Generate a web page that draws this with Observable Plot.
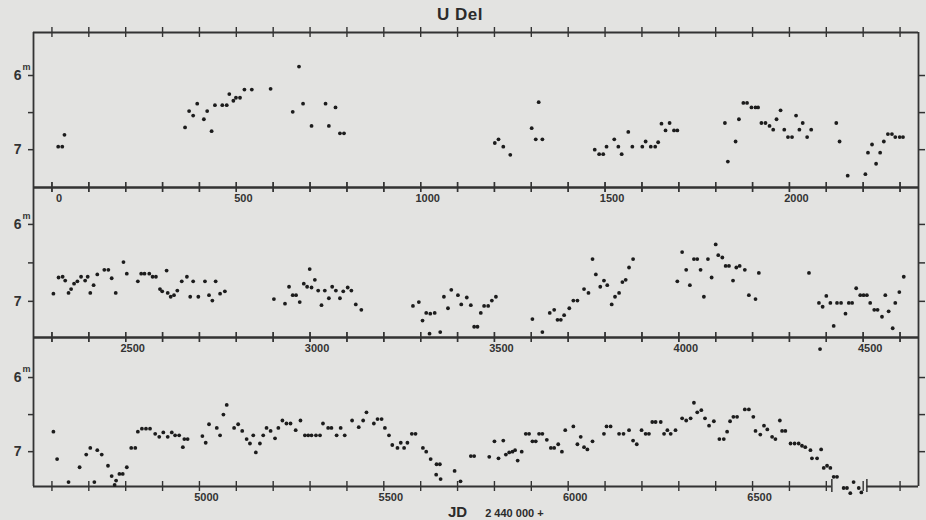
<!DOCTYPE html>
<html>
<head>
<meta charset="utf-8">
<script src="https://cdn.jsdelivr.net/npm/d3@7"></script>
<script src="https://cdn.jsdelivr.net/npm/@observablehq/plot@0.6"></script>
<style>
  html, body { margin: 0; padding: 0; background: #e3e3e1; }
  #chart { position: relative; width: 926px; height: 520px; overflow: hidden;
           font-family: "Liberation Sans", Arial, sans-serif; color: #333; }
  #chart svg { position: absolute; left: 0; top: 0; }
  #title { position: absolute; left: 0; width: 920px; top: 5px; text-align: center;
           font-weight: bold; font-size: 17px; letter-spacing: 0.5px; color: #2b2b2b; }
  #xlab { position: absolute; left: 448px; top: 503px; font-weight: bold; color: #2b2b2b; white-space: nowrap; }
  #xlab .jd { font-size: 15px; }
  #xlab .off { font-size: 11px; margin-left: 18px; }
</style>
</head>
<body>
<div id="chart">
  <div id="title">U Del</div>
  <div id="xlab"><span class="jd">JD</span><span class="off">2 440 000 +</span></div>
</div>
<script>
// ---- data: JD - 2440000 and visual magnitude, one pair of arrays per strip ----
const jd1 = [17, 28, 34,
  361, 372, 383, 394, 412, 421, 433, 442, 462, 474, 481, 492, 499, 510, 522, 542, 593,
  653, 670, 681, 704, 742, 751, 769, 781, 792,
  1201, 1211, 1224, 1243, 1301, 1320, 1312, 1330, 1472, 1484, 1495, 1504, 1525, 1536, 1545,
  1563, 1574, 1601, 1610, 1624, 1636, 1644, 1653, 1664, 1675, 1687, 1696,
  1825, 1833, 1854, 1863, 1875, 1885, 1897, 1908, 1915, 1924, 1935, 1946, 1956, 1965, 1976,
  1986, 1996, 2007, 2018, 2027, 2036, 2048, 2059,
  2127, 2136, 2158, 2206, 2213, 2224, 2235, 2246, 2256, 2267, 2278, 2287, 2299, 2308];
const mag1 = [6.96, 6.96, 6.80,
  6.70, 6.48, 6.54, 6.38, 6.59, 6.48, 6.75, 6.40, 6.40, 6.40, 6.25, 6.34, 6.30, 6.30, 6.19, 6.19, 6.18,
  6.49, 5.88, 6.38, 6.68, 6.38, 6.68, 6.43, 6.78, 6.78,
  6.91, 6.86, 6.96, 7.07, 6.71, 6.36, 6.86, 6.86, 7.00, 7.06, 7.06, 6.96, 6.86, 6.96, 7.06,
  6.76, 6.96, 6.96, 6.89, 6.96, 6.96, 6.90, 6.65, 6.74, 6.64, 6.74, 6.74,
  6.64, 7.16, 6.89, 6.59, 6.37, 6.37, 6.43, 6.43, 6.43, 6.64, 6.64, 6.68, 6.73, 6.59, 6.47,
  6.73, 6.83, 6.83, 6.54, 6.73, 6.64, 6.83, 6.73,
  6.64, 6.89, 7.35, 7.33, 7.04, 6.93, 7.19, 7.04, 6.89, 6.79, 6.79, 6.83, 6.83, 6.83];

const jd2 = [2304, 2318, 2329, 2336, 2345, 2352, 2360, 2369, 2379, 2390, 2397, 2404, 2413, 2423,
  2442, 2453, 2462, 2473, 2494, 2503, 2533, 2542, 2551, 2564, 2573, 2582, 2593, 2599, 2611,
  2614, 2622, 2631, 2640, 2652, 2666, 2675, 2683, 2697, 2715, 2726, 2735, 2744, 2756, 2769,
  2902, 2932, 2943, 2953, 2962, 2972, 2983, 2992, 2999, 3004, 3013, 3022, 3031, 3040, 3051,
  3060, 3070, 3081, 3090, 3102, 3112, 3124, 3139,
  3279, 3295, 3305, 3315, 3326, 3324, 3338, 3353, 3363, 3374, 3383, 3401, 3410,
  3425, 3436, 3445, 3454, 3463, 3472, 3483, 3493, 3504,
  3603, 3630, 3650, 3662, 3671, 3680, 3689, 3703, 3714, 3725, 3743, 3755, 3766, 3775, 3787,
  3797, 3806, 3818, 3827, 3838, 3847, 3856, 3865, 3876,
  3996, 4009, 4020, 4030, 4041, 4050, 4059, 4068, 4079, 4089, 4100, 4107, 4118, 4127, 4136,
  4147, 4156, 4165, 4179, 4190, 4208, 4217,
  4353, 4380, 4383, 4390, 4400, 4411, 4420, 4429, 4440, 4452, 4461, 4470, 4481, 4492, 4501,
  4510, 4519, 4530, 4539, 4551, 4560, 4569, 4580, 4587, 4598, 4610];
const mag2 = [6.90, 6.69, 6.68, 6.73, 6.89, 6.84, 6.77, 6.74, 6.68, 6.73, 6.68, 6.89, 6.79, 6.65,
  6.59, 6.59, 6.70, 6.89, 6.49, 6.64, 6.74, 6.64, 6.64, 6.64, 6.68, 6.68, 6.84, 6.87, 6.60,
  6.89, 6.94, 6.92, 6.86, 6.74, 6.68, 6.94, 6.74, 6.94, 6.74, 6.92, 6.99, 6.74, 6.90, 6.87,
  6.97, 7.03, 6.81, 6.92, 6.92, 7.01, 6.77, 6.81, 6.58, 6.82, 6.72, 6.86, 7.05, 6.86, 6.96,
  6.81, 6.86, 6.96, 6.87, 6.82, 6.86, 7.04, 7.11,
  7.06, 7.01, 7.25, 7.15, 7.16, 7.42, 7.15, 7.40, 6.94, 7.09, 6.85, 6.92, 7.04,
  6.95, 7.05, 7.33, 7.33, 7.15, 7.06, 7.06, 6.99, 6.94,
  7.23, 7.40, 7.15, 7.11, 7.24, 7.24, 7.18, 7.09, 6.99, 6.99, 6.84, 6.89, 6.45, 6.65, 6.81,
  6.73, 6.79, 7.04, 6.94, 6.89, 6.75, 6.72, 6.56, 6.45,
  6.74, 6.36, 6.59, 6.79, 6.45, 6.45, 6.59, 6.94, 6.45, 6.69, 6.26, 6.40, 6.43, 6.54, 6.54,
  6.73, 6.56, 6.54, 6.59, 6.92, 6.97, 6.63,
  6.63, 7.02, 7.62, 7.07, 6.93, 7.02, 7.32, 7.02, 7.02, 7.16, 7.02, 7.02, 6.83, 6.92, 6.92,
  6.92, 7.02, 7.11, 7.11, 7.20, 6.92, 7.13, 7.35, 7.02, 6.88, 6.68];

const jd3 = [4604, 4614, 4645, 4675, 4693, 4704, 4715, 4723, 4735, 4752, 4762, 4770, 4774, 4783,
  4792, 4803, 4815, 4826, 4833, 4844, 4855, 4866, 4880, 4891, 4902, 4914, 4925, 4934, 4945,
  4955, 4959, 4968, 5008, 5017, 5026, 5047, 5056, 5065, 5074, 5094, 5105, 5116, 5128, 5137,
  5146, 5153, 5164, 5173, 5182, 5193, 5205, 5214, 5225, 5236, 5247, 5261, 5274, 5286, 5295,
  5304, 5316, 5327, 5335, 5349, 5358, 5372, 5383, 5394, 5414, 5432, 5444, 5453, 5473, 5483,
  5494, 5503, 5514, 5523, 5537, 5546, 5555, 5564, 5576, 5586, 5606, 5615, 5627, 5643, 5652,
  5642, 5654, 5692, 5708,
  5736, 5745, 5786, 5800, 5811, 5824, 5831, 5840, 5849, 5856, 5863, 5874, 5885, 5894, 5903,
  5912, 5921, 5930, 5942, 5953, 5962, 5973, 5983, 5992, 6014, 6025, 6034, 6043, 6052, 6066,
  6097, 6104, 6115, 6138, 6150, 6165, 6176, 6186, 6199, 6210, 6219, 6228, 6237, 6251, 6260,
  6269, 6278, 6291, 6309, 6320, 6332, 6341, 6350, 6361, 6371, 6382, 6395, 6410, 6422, 6431,
  6439, 6448, 6458, 6479, 6490, 6502, 6508, 6521, 6531, 6540, 6553, 6562, 6574, 6580, 6589,
  6603, 6614, 6625, 6634, 6643, 6657, 6661, 6675, 6686, 6693, 6702, 6711, 6720, 6729, 6747,
  6756, 6765, 6774, 6788, 6795];
const mag3 = [6.73, 7.10, 7.41, 7.21, 7.04, 6.95, 7.41, 6.98, 7.04, 7.19, 7.33, 7.45, 7.39, 7.30,
  7.30, 7.21, 6.95, 6.95, 6.73, 6.69, 6.69, 6.69, 6.76, 6.80, 6.74, 6.80, 6.74, 6.78, 6.78,
  6.94, 6.83, 6.83, 6.79, 6.88, 6.63, 6.68, 6.78, 6.50, 6.37, 6.68, 6.63, 6.72, 6.83, 6.89,
  6.78, 7.01, 6.89, 6.78, 6.68, 6.72, 6.82, 6.68, 6.58, 6.62, 6.62, 6.71, 6.58, 6.78, 6.78,
  6.78, 6.78, 6.78, 6.62, 6.68, 6.68, 6.78, 6.68, 6.78, 6.58, 6.67, 6.58, 6.47, 6.62, 6.56,
  6.56, 6.68, 6.78, 6.91, 6.95, 6.88, 6.95, 6.88, 6.76, 6.76, 6.95, 7.00, 7.10, 7.17, 7.17,
  7.31, 7.37, 7.26, 7.40,
  7.06, 7.06, 7.07, 6.86, 7.09, 6.85, 7.04, 7.01, 7.00, 6.98, 7.12, 7.00, 6.76, 6.76, 6.86,
  6.86, 6.76, 6.76, 6.84, 6.95, 6.95, 6.90, 7.00, 6.71, 6.66, 6.90, 6.80, 6.94, 6.97, 6.86,
  6.76, 6.66, 6.66, 6.76, 6.76, 6.71, 6.85, 6.90, 6.71, 6.76, 6.76, 6.60, 6.60, 6.60, 6.76,
  6.71, 6.76, 6.71, 6.55, 6.58, 6.55, 6.34, 6.47, 6.44, 6.55, 6.65, 6.59, 6.83, 6.83, 6.73,
  6.59, 6.53, 6.53, 6.43, 6.43, 6.53, 6.72, 6.77, 6.65, 6.70, 6.80, 6.83, 6.58, 6.72, 6.72,
  6.89, 6.89, 6.89, 6.92, 6.94, 6.98, 7.09, 7.09, 6.97, 7.22, 7.19, 7.22, 7.34, 7.34, 7.49,
  7.49, 7.56, 7.41, 7.49, 7.55];

// ---- axes / tick labels ----
const xLabels1 = [0, 500, 1000, 1500, 2000];
const xLabels2 = [2500, 3000, 3500, 4000, 4500];
const xLabels3 = [5000, 5500, 6000, 6500];
const magTicks = [6, 6.5, 7];
const magLabels = {6: "6", 7: "7"};

// strip definitions (JD window, magnitude window, pixel band)
const strips = [
  {jd: jd1, mag: mag1, labels: xLabels1, xDomain: [-50, 2350], yDomain: [5.42, 7.51], top: 32,  bottom: 187, gaps: []},
  {jd: jd2, mag: mag2, labels: xLabels2, xDomain: [2250, 4650], yDomain: [5.52, 7.47], top: 187, bottom: 337, gaps: []},
  {jd: jd3, mag: mag3, labels: xLabels3, xDomain: [4550, 6950], yDomain: [5.46, 7.47], top: 337, bottom: 486, gaps: [[6715, 6810]]}
];

const W = 926, H = 520;
const ink = "#333";
const chart = document.getElementById("chart");

strips.forEach(s => {
  const data = s.jd.map((d, i) => ({jd: d, mag: s.mag[i]}));
  const [x0, x1] = s.xDomain;
  const [yTop, yBot] = s.yDomain;
  const hundreds = d3.range(Math.ceil(x0 / 100) * 100, x1 + 1, 100);
  // bottom border pieces (with breaks where the curve runs through it)
  const cuts = [x0, ...s.gaps.flat(), x1];
  const segs = [];
  for (let i = 0; i < cuts.length; i += 2) segs.push([cuts[i], cuts[i + 1]]);
  const gapEnds = s.gaps.flat();

  const svg = Plot.plot({
    width: W, height: H,
    marginTop: s.top, marginBottom: H - s.bottom, marginLeft: 33, marginRight: 8,
    x: {domain: s.xDomain},
    y: {domain: s.yDomain, reverse: true},
    style: {background: "transparent", overflow: "visible", color: ink,
            fontFamily: "'Liberation Sans', Arial, sans-serif"},
    marks: [
      // frame
      Plot.ruleY([yTop], {y: d => d, x1: x0, x2: x1, stroke: ink, strokeWidth: 1.8}),
      Plot.ruleY(segs, {y: yBot, x1: d => d[0], x2: d => d[1], stroke: ink, strokeWidth: 1.8}),
      Plot.ruleX([x0, x1], {x: d => d, stroke: ink, strokeWidth: 1.8}),
      Plot.ruleX(gapEnds, {x: d => d, y1: yBot, y2: yBot, insetTop: -7, insetBottom: -6, stroke: ink, strokeWidth: 1.5}),
      // crossing ticks every 100 days on both borders
      Plot.ruleX(hundreds, {x: d => d, y1: yTop, y2: yTop, insetTop: -5, insetBottom: -5, stroke: ink, strokeWidth: 1.4}),
      Plot.ruleX(hundreds, {x: d => d, y1: yBot, y2: yBot, insetTop: -5, insetBottom: -5, stroke: ink, strokeWidth: 1.4}),
      // magnitude axis
      Plot.axisY({anchor: "left", ticks: magTicks, tickSize: 5, tickPadding: 7, strokeWidth: 1.5,
                  tickFormat: d => magLabels[d] ?? "", fontSize: 14, fontWeight: "bold", label: null}),
      Plot.text([6], {x: x0, y: d => d, text: () => "m", dx: -11, dy: -8, fontSize: 9,
                      textAnchor: "start", fontWeight: "bold", fill: ink}),
      Plot.axisY({anchor: "right", ticks: magTicks, tickSize: 6, strokeWidth: 1.5,
                  tickFormat: () => "", label: null}),
      // JD labels under each strip
      Plot.axisX({anchor: "bottom", ticks: s.labels, tickSize: 0, tickPadding: 7, dx: 7,
                  tickFormat: d => String(d), fontSize: 11, fontWeight: "bold", label: null}),
      // observations
      Plot.dot(data, {x: "jd", y: "mag", r: 1.9, fill: "#1c1c1c", stroke: null})
    ]
  });
  chart.appendChild(svg);
});
</script>
</body>
</html>
